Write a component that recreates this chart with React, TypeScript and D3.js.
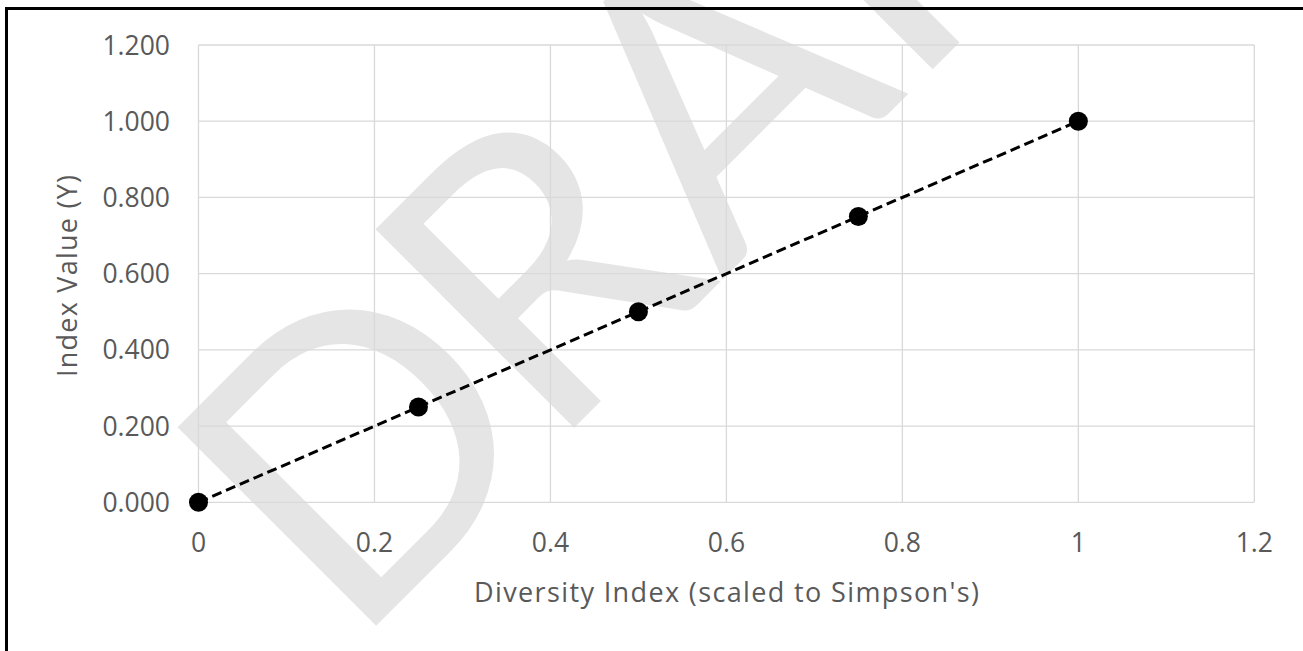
import React from "react";
import * as d3 from "d3";

const xValues = [0, 0.25, 0.5, 0.75, 1];
const yValues = [0, 0.25, 0.5, 0.75, 1];
const xTicks = [0, 0.2, 0.4, 0.6, 0.8, 1, 1.2];
const yTicks = [0, 0.2, 0.4, 0.6, 0.8, 1.0, 1.2];
const xTickLabels = ["0", "0.2", "0.4", "0.6", "0.8", "1", "1.2"];
const yTickLabels = ["0.000", "0.200", "0.400", "0.600", "0.800", "1.000", "1.200"];
const xTitle = "Diversity Index (scaled to Simpson's)";
const yTitle = "Index Value (Y)";
const watermarkLetters = ["D", "R", "A", "F", "T"];
const watermarkOffsets = [-30, 250, 627, 757, 960];
const watermarkAnchors = ["start", "start", "middle", "start", "start"];

const W = 1303;
const H = 651;
const FONT = "'Open Sans', Lato, sans-serif";
const WM_FONT = "Lato, 'Open Sans', sans-serif";

export default function App() {
  const x = d3.scaleLinear().domain([0, 1.2]).range([198.5, 1254.3]);
  const y = d3.scaleLinear().domain([0, 1.2]).range([502.3, 45]);
  const pts = xValues.map((v, i) => [v, yValues[i]] as [number, number]);
  const line = d3
    .line<[number, number]>()
    .x((d) => x(d[0]))
    .y((d) => y(d[1]));

  return (
    <svg
      width={W}
      height={H}
      style={{ position: "absolute", left: 0, top: 0, background: "#fff" }}
      fontFamily={FONT}
    >
      <rect x={0} y={0} width={W} height={H} fill="#fff" />
      {/* watermark */}
      <g transform="translate(372,630) rotate(-45)" fill="#e5e5e5">
        {watermarkLetters.map((l, i) => (
          <text
            key={l}
            x={watermarkOffsets[i]}
            y={0}
            fontSize={392}
            textAnchor={watermarkAnchors[i]}
            fontFamily={WM_FONT}
          >
            {l}
          </text>
        ))}
      </g>
      {/* gridlines */}
      <g stroke="#d9d9d9" strokeWidth={1.3}>
        {xTicks.map((t) => (
          <line key={"gx" + t} x1={x(t)} x2={x(t)} y1={y(1.2)} y2={y(0)} />
        ))}
        {yTicks.map((t) => (
          <line key={"gy" + t} x1={x(0)} x2={x(1.2)} y1={y(t)} y2={y(t)} />
        ))}
      </g>
      {/* tick labels */}
      <g fill="#595959" fontSize={26.5}>
        {yTicks.map((t, i) => (
          <text key={"yl" + t} x={170} y={y(t) + 9.5} textAnchor="end">
            {yTickLabels[i]}
          </text>
        ))}
        {xTicks.map((t, i) => (
          <text key={"xl" + t} x={x(t)} y={552} textAnchor="middle">
            {xTickLabels[i]}
          </text>
        ))}
        <text x={474} y={602} fontSize={27} textLength={505} lengthAdjust="spacing">
          {xTitle}
        </text>
        <text transform="translate(77,377) rotate(-90)" fontSize={27} textLength={202} lengthAdjust="spacing">
          {yTitle}
        </text>
      </g>
      {/* series */}
      <path
        d={line(pts) || ""}
        fill="none"
        stroke="#000"
        strokeWidth={3}
        strokeDasharray="10,5"
      />
      {pts.map((p, i) => (
        <circle key={"m" + i} cx={x(p[0])} cy={y(p[1])} r={9.5} fill="#000" />
      ))}
      {/* frame */}
      <rect x={6.5} y={8.5} width={W + 20} height={H + 20} fill="none" stroke="#000" strokeWidth={3} />
    </svg>
  );
}
